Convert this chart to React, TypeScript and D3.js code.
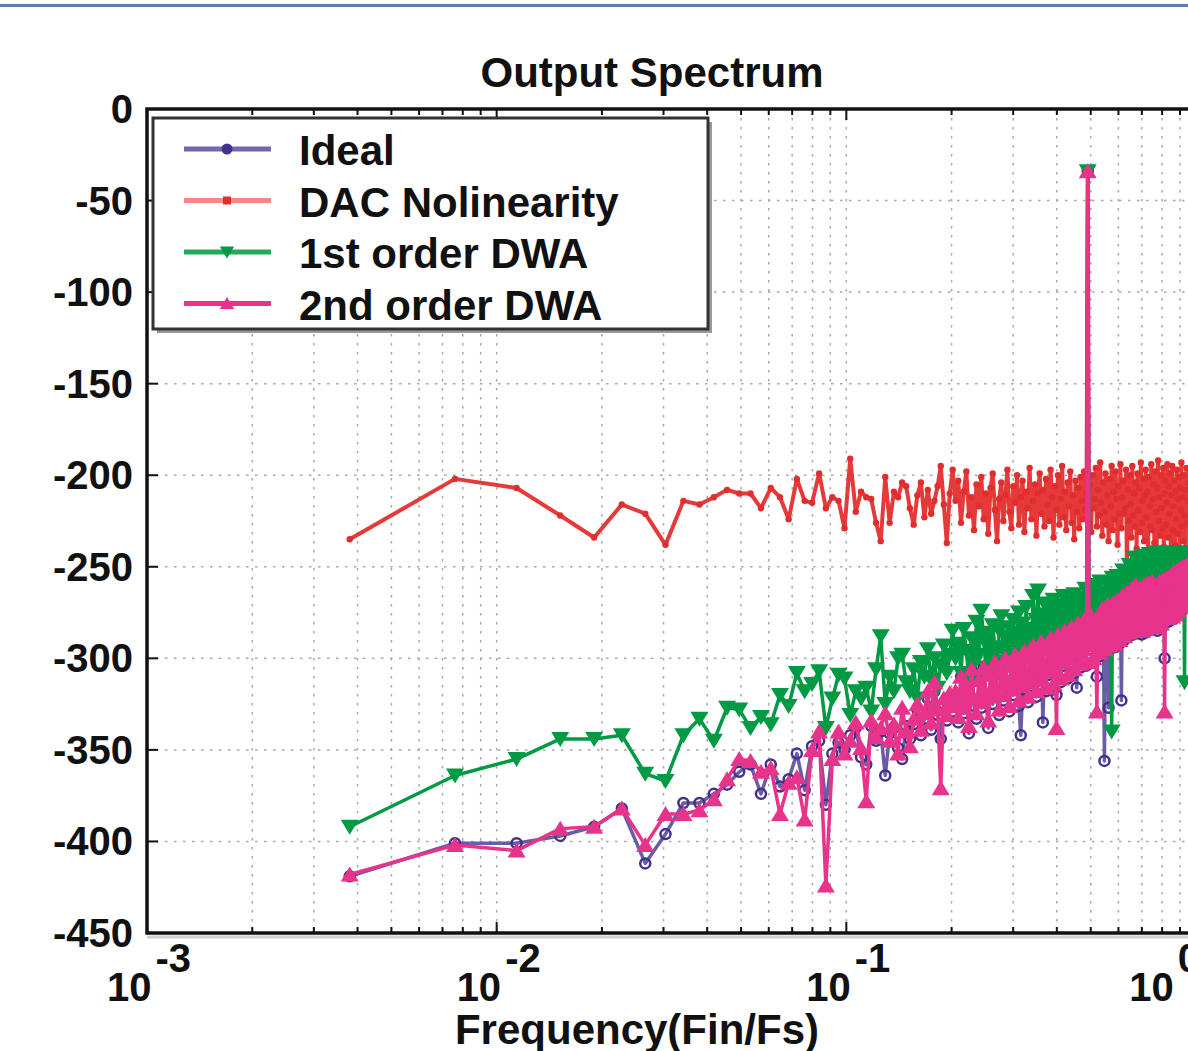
import React, { useEffect, useRef } from 'react';
import * as d3 from 'd3';

const width = 1188;
const height = 1051;
const plot = { left: 147, right: 1196, top: 109, bottom: 933 };

// FFT bin width in Fin/Fs; bin k sits at k * binWidth
const binWidth = 0.0038;

const ideal = [
  -419, -401, -401, -397, -392, -382, -412, -396, -379, -379, -374, -369, -362,
  -358, -374, -358, -370, -366, -352, -372, -348, -345, -380,
  -352, -346, -350, -342, -338, -354, -358, -337, -345, -340,
  -364, -341, -338, -349, -355, -337, -344, -336, -328, -342,
  -333, -322, -339, -318, -331, -344, -325, -334, -322, -329,
  -321, -335, -310, -330, -315, -341, -306, -326, -333, -312,
  -327, -305, -322, -338, -309, -325, -302, -320, -331, -307,
  -323, -300, -316, -329, -304, -320, -298, -314, -326, -342,
  -317, -296, -311, -324, -300, -315, -293, -308, -321, -297,
  -312, -291, -335, -304, -318, -295, -309, -289, -303, -317,
  -293, -320, -287, -301, -313, -290, -304, -285, -298, -311,
  -288, -302, -283, -296, -308, -286, -316, -281, -294, -305,
  -284, -297, -279, -292, -304,
  -34,
  -282, -295, -277, -290, -302, -280, -293, -310, -286, -299,
  -278, -291, -273, -286, -356, -276, -289, -271, -327, -295,
  -274, -287, -270, -283, -294, -272, -285, -268, -281, -292,
  -271, -323, -266, -279, -290, -269, -282, -264, -277, -288,
  -267, -280, -262, -275, -287, -265, -278, -260, -273, -285,
  -267, -280, -262, -276, -287, -265, -278, -260, -274, -286,
  -264, -277, -259, -272, -284, -262, -275, -258, -270, -282,
  -265, -278, -260, -273, -285, -263, -276, -258, -271, -283,
  -262, -275, -257, -270, -300, -260, -273, -256, -268, -280,
  -259, -272, -255, -267, -279, -258, -270, -253, -266, -278,
  -257, -269, -252, -265, -276, -255, -268, -251, -263, -274,
  -254, -267, -250, -262, -273, -253, -265, -249, -261, -272, -252,
];

const dacNonlinearity = [
  -235, -202, -207, -222, -234, -216, -221, -238, -214, -216, -212, -208, -210,
  -210, -218, -207, -212, -224, -202, -214, -215, -199, -218,
  -212, -214, -229, -191, -220, -209, -212, -213, -226, -236,
  -201, -226, -209, -212, -204, -206, -218, -227, -211, -204,
  -223, -208, -221, -214, -206, -195, -216, -237, -210, -197,
  -214, -203, -226, -209, -198, -222, -212, -230, -205, -217,
  -201, -224, -210, -232, -207, -199, -219, -236, -213, -204,
  -225, -211, -197, -220, -229, -206, -215, -200, -227, -212,
  -203, -231, -209, -218, -196, -224, -214, -205, -233, -210,
  -199, -221, -208, -228, -202, -216, -225, -197, -212, -234,
  -206, -219, -200, -227, -213, -195, -223, -209, -230, -204,
  -217, -198, -226, -211, -235, -203, -220, -207, -229, -201,
  -214, -224, -198, -219, -210,
  -34,
  -226, -205, -231, -200, -218, -213, -196, -228, -208, -222,
  -193, -215, -233, -204, -220, -199, -227, -211, -236, -202,
  -217, -195, -230, -209, -224, -198, -213, -238, -206, -221,
  -194, -229, -212, -203, -221, -218, -197, -256, -208, -225,
  -200, -216, -234, -195, -222, -210, -228, -204, -240, -199,
  -219, -207, -231, -193, -226, -214, -202, -236, -211, -197,
  -223, -209, -242, -201, -217, -228, -194, -230, -213, -205,
  -237, -198, -220, -246, -207, -192, -225, -212, -233, -200,
  -218, -229, -196, -239, -210, -203, -227, -215, -194, -234,
  -206, -221, -199, -244, -211, -195, -230, -217, -203, -238,
  -209, -224, -197, -232, -213, -201, -241, -207, -219, -193,
  -228, -212, -236, -200, -222, -208, -245, -196, -226, -214, -204,
];

const dwaFirst = [
  -392, -364, -355, -344, -344, -342, -363, -367, -342, -333, -345, -327, -328,
  -338, -332, -336, -320, -326, -308, -318, -314, -307, -338,
  -322, -309, -311, -331, -318, -322, -316, -329, -306, -288,
  -325, -310, -318, -300, -298, -313, -318, -306, -322, -302,
  -310, -295, -312, -300, -316, -304, -293, -308, -298, -285,
  -300, -292, -308, -284, -296, -312, -289, -303, -280, -298,
  -274, -290, -305, -286, -299, -282, -294, -309, -285, -277,
  -296, -288, -302, -283, -291, -279, -298, -286, -275, -293,
  -281, -300, -272, -289, -284, -296, -266, -287, -279, -263,
  -291, -276, -285, -270, -294, -281, -273, -288, -278, -268,
  -286, -275, -290, -271, -283, -279, -266, -292, -274, -284,
  -269, -281, -277, -289, -265, -280, -272, -286, -267, -278,
  -283, -270, -276, -262, -281,
  -34,
  -268, -279, -263, -274, -284, -260, -271, -282, -266, -276,
  -258, -272, -281, -264, -269, -277, -259, -275, -266, -283,
  -261, -340, -256, -279, -267, -262, -274, -255, -268, -280,
  -257, -265, -273, -252, -269, -260, -276, -254, -264, -271,
  -249, -266, -258, -274, -253, -262, -245, -270, -259, -267,
  -250, -263, -247, -272, -256, -261, -244, -268, -252, -275,
  -246, -260, -254, -266, -243, -271, -257, -249, -264, -253,
  -245, -269, -251, -258, -242, -265, -255, -247, -273, -250,
  -244, -262, -256, -248, -267, -243, -259, -252, -270, -246,
  -254, -261, -242, -266, -250, -257, -245, -263, -253, -248,
  -268, -244, -256, -251, -262, -243, -259, -272, -247, -255,
  -264, -246, -258, -250, -313, -245, -261, -253, -242, -266, -252,
];

const dwaSecond = [
  -418, -402, -405, -393, -392, -382, -402, -385, -385, -383, -377, -366, -355,
  -356, -362, -360, -385, -368, -365, -388, -350, -340, -424,
  -355, -340, -352, -345, -335, -349, -378, -334, -343, -338,
  -330, -345, -336, -352, -327, -340, -348, -333, -325, -339,
  -330, -318, -335, -313, -328, -371, -322, -331, -319, -326,
  -318, -332, -310, -327, -315, -337, -306, -322, -330, -312,
  -324, -305, -319, -334, -309, -321, -302, -316, -328, -307,
  -320, -300, -314, -326, -304, -317, -298, -311, -323, -303,
  -315, -296, -309, -321, -300, -313, -293, -306, -318, -297,
  -310, -291, -312, -304, -316, -295, -307, -289, -301, -314,
  -293, -338, -287, -299, -311, -290, -302, -285, -296, -309,
  -288, -300, -283, -294, -306, -286, -297, -281, -292, -303,
  -284, -295, -279, -290, -302,
  -34,
  -282, -293, -277, -288, -300, -280, -291, -329, -286, -297,
  -278, -289, -273, -284, -295, -276, -287, -271, -282, -293,
  -274, -285, -270, -281, -292, -272, -283, -268, -279, -290,
  -271, -282, -266, -277, -288, -269, -280, -264, -275, -286,
  -267, -278, -262, -273, -285, -265, -276, -260, -271, -283,
  -267, -278, -262, -274, -285, -265, -276, -260, -272, -284,
  -264, -275, -259, -270, -282, -262, -273, -258, -268, -280,
  -265, -276, -260, -271, -283, -263, -274, -258, -269, -281,
  -262, -273, -257, -268, -329, -260, -271, -256, -266, -278,
  -259, -270, -255, -265, -277, -258, -268, -253, -264, -276,
  -257, -267, -252, -263, -274, -255, -266, -251, -261, -272,
  -254, -265, -250, -260, -271, -253, -263, -249, -259, -270, -252,
];

const seriesNames = ['Ideal', 'DAC Nolinearity', '1st order DWA', '2nd order DWA'];
const yTicks = [0, -50, -100, -150, -200, -250, -300, -350, -400, -450];
const xDecades = [-3, -2, -1, 0];

const font = '"Liberation Sans", Arial, sans-serif';

// triangle markers, pointing up or down
const markerPath = (kind, s = 1) => {
  if (kind === 'up') return `M0,${-8 * s}L${9 * s},${7 * s}L${-9 * s},${7 * s}Z`;
  return `M0,${8 * s}L${9 * s},${-7 * s}L${-9 * s},${-7 * s}Z`;
};

export default function App() {
  const ref = useRef(null);

  useEffect(() => {
    const svg = d3.select(ref.current);
    svg.selectAll('*').remove();

    const x = d3.scaleLog().domain([1e-3, 1]).range([plot.left, plot.right]);
    const y = d3.scaleLinear().domain([-450, 0]).range([plot.bottom, plot.top]);
    const freq = ideal.map((_, i) => (i + 1) * binWidth);

    svg.append('rect').attr('width', width).attr('height', height).attr('fill', '#fff');
    // blue rule along the top of the page
    svg.append('rect').attr('x', 0).attr('y', 4).attr('width', width).attr('height', 3).attr('fill', '#5a7fb6');

    // grid
    const logTicks = d3.range(-3, 0).flatMap(e => d3.range(1, 10).map(m => m * Math.pow(10, e))).concat([1]);
    svg.append('g')
      .attr('stroke', '#a8a8a8').attr('stroke-width', 1.5).attr('stroke-dasharray', '2.5,6.5')
      .selectAll('line').data(logTicks).join('line')
      .attr('x1', d => x(d)).attr('x2', d => x(d))
      .attr('y1', plot.top).attr('y2', plot.bottom);
    svg.append('g')
      .attr('stroke', '#a8a8a8').attr('stroke-width', 1.5).attr('stroke-dasharray', '2.5,6.5')
      .selectAll('line').data(yTicks).join('line')
      .attr('x1', plot.left).attr('x2', plot.right)
      .attr('y1', d => y(d)).attr('y2', d => y(d));

    // series
    svg.append('clipPath').attr('id', 'plot-clip')
      .append('rect').attr('x', plot.left).attr('y', plot.top)
      .attr('width', plot.right - plot.left).attr('height', plot.bottom - plot.top);

    const series = [
      { values: ideal, line: '#6b5ca8', mark: '#43318a', kind: 'circle', w: 3.5 },
      { values: dacNonlinearity, line: '#e5393a', mark: '#e02d2d', kind: 'dot', w: 4 },
      { values: dwaFirst, line: '#009a44', mark: '#009a44', kind: 'down', w: 3.5 },
      { values: dwaSecond, line: '#e8338a', mark: '#e8338a', kind: 'up', w: 3.5 },
    ];

    const line = d3.line().x(d => x(d[0])).y(d => y(d[1]));
    const layer = svg.append('g').attr('clip-path', 'url(#plot-clip)');
    series.forEach(s => {
      const pts = s.values.map((v, i) => [freq[i], v]);
      const g = layer.append('g');
      g.append('path').attr('d', line(pts)).attr('fill', 'none')
        .attr('stroke', s.line).attr('stroke-width', s.w)
        .attr('stroke-linejoin', 'round');
      if (s.kind === 'circle') {
        g.selectAll('circle').data(pts).join('circle')
          .attr('cx', d => x(d[0])).attr('cy', d => y(d[1])).attr('r', 5)
          .attr('fill', 'none').attr('stroke', s.mark).attr('stroke-width', 2.5);
      } else if (s.kind === 'dot') {
        g.selectAll('circle').data(pts).join('circle')
          .attr('cx', d => x(d[0])).attr('cy', d => y(d[1])).attr('r', 3.2)
          .attr('fill', s.mark);
      } else {
        g.selectAll('path.m').data(pts).join('path').attr('class', 'm')
          .attr('transform', d => `translate(${x(d[0])},${y(d[1])})`)
          .attr('d', markerPath(s.kind)).attr('fill', s.mark);
      }
    });

    // frame and ticks
    svg.append('line').attr('x1', plot.left).attr('x2', width).attr('y1', plot.bottom + 4).attr('y2', plot.bottom + 4)
      .attr('stroke', '#d0d0d0').attr('stroke-width', 3);
    svg.append('rect').attr('x', plot.left).attr('y', plot.top)
      .attr('width', plot.right - plot.left).attr('height', plot.bottom - plot.top)
      .attr('fill', 'none').attr('stroke', '#111').attr('stroke-width', 3.5);

    const ticks = svg.append('g').attr('stroke', '#111').attr('stroke-width', 2);
    ticks.selectAll('line.b').data(logTicks).join('line').attr('class', 'b')
      .attr('x1', d => x(d)).attr('x2', d => x(d))
      .attr('y1', plot.bottom).attr('y2', d => plot.bottom - (Number.isInteger(Math.log10(d)) ? 11 : 6));
    ticks.selectAll('line.t').data(logTicks).join('line').attr('class', 't')
      .attr('x1', d => x(d)).attr('x2', d => x(d))
      .attr('y1', plot.top).attr('y2', d => plot.top + (Number.isInteger(Math.log10(d)) ? 11 : 6));
    ticks.selectAll('line.l').data(yTicks).join('line').attr('class', 'l')
      .attr('x1', plot.left).attr('x2', plot.left + 11)
      .attr('y1', d => y(d)).attr('y2', d => y(d));

    // y tick labels
    svg.append('g').attr('font-family', font).attr('font-weight', 'bold').attr('font-size', 40)
      .attr('text-anchor', 'end').attr('fill', '#111')
      .selectAll('text').data(yTicks).join('text')
      .attr('x', 133).attr('y', d => y(d) + 14).text(d => d);

    // x tick labels 10^e
    const xl = svg.append('g').attr('font-family', font).attr('font-weight', 'bold').attr('font-size', 40).attr('fill', '#111');
    xDecades.forEach((e, i) => {
      const last = i === xDecades.length - 1;
      const t = xl.append('text')
        .attr('x', last ? x(Math.pow(10, e)) + 4 : x(Math.pow(10, e)) + 2)
        .attr('y', 1001)
        .attr('text-anchor', last ? 'end' : 'middle');
      t.append('tspan').text('10');
      t.append('tspan').attr('dx', 4).attr('dy', -29).text(e);
    });

    // titles
    svg.append('text').attr('x', 652).attr('y', 87).attr('text-anchor', 'middle')
      .attr('font-family', font).attr('font-weight', 'bold').attr('font-size', 42).attr('fill', '#111')
      .text('Output Spectrum');
    svg.append('text').attr('x', 637).attr('y', 1044).attr('text-anchor', 'middle')
      .attr('font-family', font).attr('font-weight', 'bold').attr('font-size', 42).attr('fill', '#111')
      .text('Frequency(Fin/Fs)');

    // legend
    const lg = svg.append('g');
    lg.append('rect').attr('x', 157).attr('y', 122).attr('width', 555).attr('height', 211).attr('fill', '#999');
    lg.append('rect').attr('x', 153).attr('y', 118).attr('width', 555).attr('height', 211)
      .attr('fill', '#fff').attr('stroke', '#333').attr('stroke-width', 3);
    const legendColors = [
      { line: '#7566ad', mark: '#43318a', kind: 'circle' },
      { line: '#f08a86', mark: '#e0302c', kind: 'dot' },
      { line: '#26a85c', mark: '#009a44', kind: 'down' },
      { line: '#e8338a', mark: '#e8338a', kind: 'up' },
    ];
    seriesNames.forEach((name, i) => {
      const cy = 149 + i * 51.5;
      const c = legendColors[i];
      lg.append('line').attr('x1', 184).attr('x2', 271).attr('y1', cy).attr('y2', cy)
        .attr('stroke', c.line).attr('stroke-width', 5);
      if (c.kind === 'circle') {
        lg.append('circle').attr('cx', 227).attr('cy', cy).attr('r', 5.5).attr('fill', c.mark);
      } else if (c.kind === 'dot') {
        lg.append('rect').attr('x', 223).attr('y', cy - 4).attr('width', 8).attr('height', 8).attr('fill', c.mark);
      } else {
        lg.append('path').attr('transform', `translate(227,${cy})`).attr('d', markerPath(c.kind, 0.8)).attr('fill', c.mark);
      }
      lg.append('text').attr('x', 299).attr('y', cy + 16)
        .attr('font-family', font).attr('font-weight', 'bold').attr('font-size', 42).attr('fill', '#111')
        .text(name);
    });
  }, []);

  return (
    <div style={{ position: 'absolute', left: 0, top: 0 }}>
      <svg ref={ref} width={width} height={height} style={{ display: 'block' }} />
    </div>
  );
}
